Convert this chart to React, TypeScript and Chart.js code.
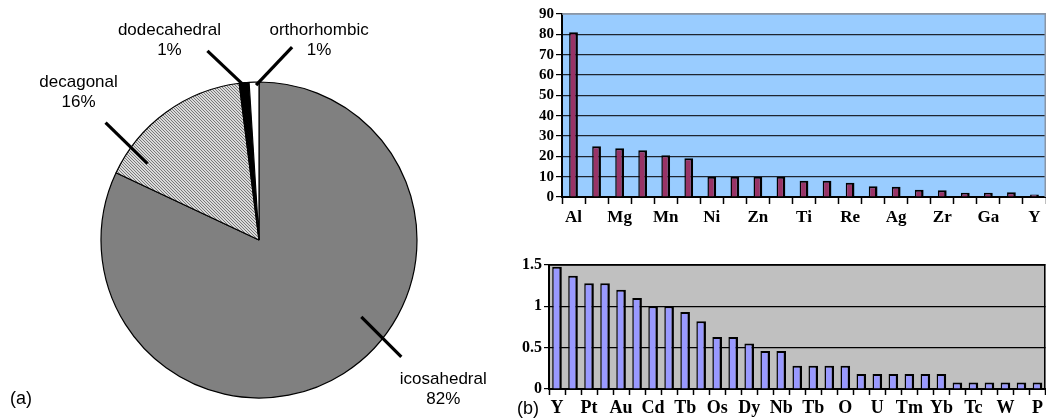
import React, { useEffect, useRef } from 'react';
import { Chart, registerables } from 'chart.js';

Chart.register(...registerables);

// ---------- data ----------
const pieLabels = ['icosahedral', 'decagonal', 'dodecahedral', 'orthorhombic'];
const pieValues = [82, 16, 1, 1];

const topCategories = ['Al', '', 'Mg', '', 'Mn', '', 'Ni', '', 'Zn', '', 'Ti', '', 'Re', '', 'Ag', '', 'Zr', '', 'Ga', '', 'Y'];
const topValues = [81, 25, 24, 23, 20.5, 19, 10, 10, 10, 10, 8, 8, 7, 5.3, 5, 3.6, 3.3, 2.1, 2.1, 2.3, 1.2];
const topMax = 90;
const topStep = 10;

const bottomCategories = ['Y', '', 'Pt', '', 'Au', '', 'Cd', '', 'Tb', '', 'Os', '', 'Dy', '', 'Nb', '', 'Tb', '', 'O', '', 'U', '', 'Tm', '', 'Yb', '', 'Tc', '', 'W', '', 'P'];
const bottomValues = [1.48, 1.37, 1.28, 1.28, 1.2, 1.1, 1.0, 1.0, 0.93, 0.82, 0.63, 0.63, 0.55, 0.46, 0.46, 0.28, 0.28, 0.28, 0.28, 0.18, 0.18, 0.18, 0.18, 0.18, 0.18, 0.08, 0.08, 0.08, 0.08, 0.08, 0.08];
const bottomMax = 1.5;
const bottomStep = 0.5;

// ---------- styles / layout ----------
const serif = 'Liberation Serif';
const sans = 'Liberation Sans';

// callout layout for pie labels: t = position within slice span, r = fraction of radius,
// (dx,dy) leader vector, (tx,ty) text offset from leader end
const callouts = [
  { t: 0.43, r: 0.81, dx: 40, dy: 40, tx: 42, ty: 22 },
  { t: 0.16, r: 0.855, dx: -42, dy: -41, tx: -27, ty: -40 },
  { t: 0.5, r: 0.98, dx: -37, dy: -35, tx: -38, ty: -21 },
  { t: 0.7, r: 0.98, dx: 36, dy: -38, tx: 27, ty: -17 },
];

function makeHatch(): CanvasPattern | string {
  const c = document.createElement('canvas');
  c.width = 3;
  c.height = 3;
  const x = c.getContext('2d');
  if (!x) return '#c0c0c0';
  x.fillStyle = '#dadada';
  x.fillRect(0, 0, 3, 3);
  x.strokeStyle = '#6e6e6e';
  x.lineWidth = 0.9;
  x.beginPath();
  x.moveTo(0, 0); x.lineTo(3, 3);
  x.moveTo(-1, 2); x.lineTo(1, 4);
  x.moveTo(2, -1); x.lineTo(4, 1);
  x.stroke();
  const p = x.createPattern(c, 'repeat');
  return p || '#c0c0c0';
}

const calloutPlugin = {
  id: 'callouts',
  afterDraw(chart: any) {
    const meta = chart.getDatasetMeta(0);
    const ctx = chart.ctx as CanvasRenderingContext2D;
    ctx.save();
    meta.data.forEach((arc: any, i: number) => {
      const c = callouts[i];
      if (!c) return;
      const p = arc.getProps(['x', 'y', 'startAngle', 'endAngle', 'outerRadius'], true);
      const a = p.startAngle + c.t * (p.endAngle - p.startAngle);
      const sx = p.x + Math.cos(a) * p.outerRadius * c.r;
      const sy = p.y + Math.sin(a) * p.outerRadius * c.r;
      const ex = sx + c.dx;
      const ey = sy + c.dy;
      ctx.strokeStyle = '#000';
      ctx.lineWidth = 3.2;
      ctx.beginPath();
      ctx.moveTo(sx, sy);
      ctx.lineTo(ex, ey);
      ctx.stroke();
      ctx.fillStyle = '#000';
      ctx.font = `17px "${sans}"`;
      ctx.textAlign = 'center';
      ctx.textBaseline = 'middle';
      ctx.fillText(chart.data.labels[i], ex + c.tx, ey + c.ty);
      ctx.fillText(`${chart.data.datasets[0].data[i]}%`, ex + c.tx, ey + c.ty + 20);
    });
    ctx.restore();
  },
};

const plotBg = {
  id: 'plotBg',
  beforeDraw(chart: any, _args: any, opts: any) {
    const { ctx, chartArea: a } = chart;
    ctx.save();
    ctx.fillStyle = opts.color;
    ctx.fillRect(a.left, a.top, a.right - a.left, a.bottom - a.top);
    ctx.restore();
  },
  beforeDatasetsDraw(chart: any, _args: any, opts: any) {
    const { ctx, chartArea: a } = chart;
    ctx.save();
    ctx.strokeStyle = opts.border;
    ctx.lineWidth = 1.5;
    ctx.beginPath();
    ctx.moveTo(a.left, a.top);
    ctx.lineTo(a.right - 0.75, a.top);
    ctx.lineTo(a.right - 0.75, a.bottom);
    ctx.stroke();
    ctx.restore();
  },
};

function barConfig(opts: {
  labels: string[];
  values: number[];
  max: number;
  step: number;
  fill: string;
  bg: string;
  border: string;
  gridColor: (v: number) => string;
  yWidth: number;
  xHeight: number;
  padTop: number;
  xFont: number;
  yFont: number;
  barPct: number;
  tickX: number;
  tickY: number;
}): any {
  return {
    type: 'bar',
    data: {
      labels: opts.labels,
      datasets: [
        {
          data: opts.values,
          backgroundColor: opts.fill,
          borderColor: '#000',
          borderWidth: { top: 2, left: 1.5, right: 2.5, bottom: 0 },
          barPercentage: opts.barPct,
          categoryPercentage: 1,
        },
      ],
    },
    options: {
      animation: false,
      responsive: false,
      layout: { padding: { top: opts.padTop, right: 0, left: 0, bottom: 0 } },
      plugins: {
        legend: { display: false },
        tooltip: { enabled: false },
        plotBg: { color: opts.bg, border: opts.border },
      },
      scales: {
        x: {
          offset: true,
          grid: { display: true, drawOnChartArea: false, drawTicks: true, tickLength: opts.tickX, tickColor: '#000', tickWidth: 1.5, offset: true },
          border: { color: '#000', width: 2 },
          ticks: { autoSkip: false, maxRotation: 0, minRotation: 0, padding: 3, color: '#000', font: { family: serif, size: opts.xFont, weight: 'bold' } },
          afterFit(scale: any) { scale.height = opts.xHeight; },
        },
        y: {
          min: 0,
          max: opts.max,
          grid: {
            color: (c: any) => opts.gridColor(c.tick ? c.tick.value : 0),
            lineWidth: 1.2,
            drawTicks: true,
            tickLength: opts.tickY,
            tickColor: '#000',
          },
          border: { color: '#000', width: 2 },
          ticks: {
            stepSize: opts.step,
            autoSkip: false,
            padding: 2,
            color: '#000',
            font: { family: serif, size: opts.yFont, weight: 'bold' },
            callback: (v: any) => `${Number(v)}`,
          },
          afterFit(scale: any) { scale.width = opts.yWidth; },
        },
      },
    },
    plugins: [plotBg],
  };
}

export default function App() {
  const pieRef = useRef<HTMLCanvasElement>(null);
  const topRef = useRef<HTMLCanvasElement>(null);
  const botRef = useRef<HTMLCanvasElement>(null);

  useEffect(() => {
    const charts: Chart[] = [];
    if (pieRef.current) {
      charts.push(
        new Chart(pieRef.current, {
          type: 'pie',
          data: {
            labels: pieLabels,
            datasets: [
              {
                data: pieValues,
                backgroundColor: ['#808080', makeHatch() as any, '#000000', '#ffffff'],
                borderColor: '#000',
                borderWidth: 1.2,
              },
            ],
          },
          options: {
            animation: false,
            responsive: false,
            radius: 158,
            layout: { padding: { left: 101, right: 103, top: 82, bottom: 20 } },
            plugins: { legend: { display: false }, tooltip: { enabled: false } },
          } as any,
          plugins: [calloutPlugin as any],
        })
      );
    }
    if (topRef.current) {
      charts.push(
        new Chart(
          topRef.current,
          barConfig({
            labels: topCategories,
            values: topValues,
            max: topMax,
            step: topStep,
            fill: '#993366',
            bg: '#99ccff',
            border: '#8a96a6',
            gridColor: (v) => (v === topMax ? '#8a96a6' : '#1e2530'),
            yWidth: 42,
            xHeight: 33,
            padTop: 14,
            xFont: 17,
            yFont: 15,
            barPct: 0.38,
            tickX: 7,
            tickY: 6,
          })
        )
      );
    }
    if (botRef.current) {
      charts.push(
        new Chart(
          botRef.current,
          barConfig({
            labels: bottomCategories,
            values: bottomValues,
            max: bottomMax,
            step: bottomStep,
            fill: '#9999ff',
            bg: '#c0c0c0',
            border: '#000',
            gridColor: () => '#000',
            yWidth: 49,
            xHeight: 29,
            padTop: 20,
            xFont: 18,
            yFont: 16,
            barPct: 0.6,
            tickX: 6,
            tickY: 5,
          })
        )
      );
    }
    return () => charts.forEach((c) => c.destroy());
  }, []);

  const labelStyle: React.CSSProperties = {
    position: 'absolute',
    fontFamily: `"${sans}"`,
    fontSize: 18,
    lineHeight: '20px',
    color: '#000',
    whiteSpace: 'nowrap',
  };

  return (
    <div style={{ position: 'fixed', left: 0, top: 0, width: 1046, height: 418, background: '#fff', overflow: 'hidden' }}>
      <canvas ref={pieRef} width={520} height={418} style={{ position: 'absolute', left: 0, top: 0, width: 520, height: 418 }} />
      <canvas ref={topRef} width={526} height={230} style={{ position: 'absolute', left: 520, top: 0, width: 526, height: 230 }} />
      <canvas ref={botRef} width={546} height={173} style={{ position: 'absolute', left: 500, top: 245, width: 546, height: 173 }} />
      <div style={{ ...labelStyle, left: 10, top: 388 }}>(a)</div>
      <div style={{ ...labelStyle, left: 517, top: 398 }}>(b)</div>
    </div>
  );
}
